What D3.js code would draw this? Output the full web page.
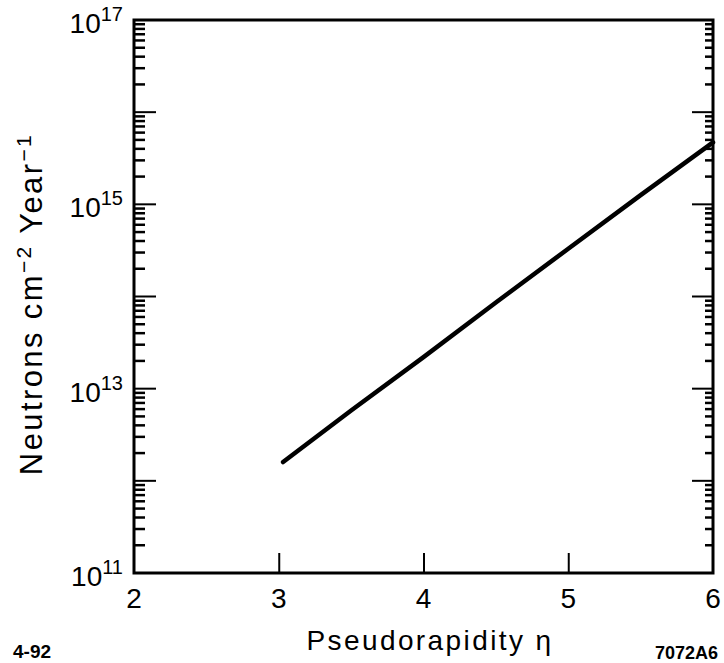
<!DOCTYPE html>
<html>
<head>
<meta charset="utf-8">
<script src="https://cdn.jsdelivr.net/npm/d3@7"></script>
<style>
  body { margin: 0; background: #fff; }
  svg { display: block; font-family: "Liberation Sans", Arial, Helvetica, sans-serif; }
</style>
</head>
<body>
<div id="chart"></div>
<script>
// neutron flux vs pseudorapidity
const eta = [3.03, 3.5, 4, 4.5, 5, 5.5, 6];
const flux = [1.6e12, 5.8e12, 2.2e13, 8.6e13, 3.3e14, 1.26e15, 4.7e15];

const xTicks = [2, 3, 4, 5, 6];
const yDecades = [11, 13, 15, 17];

const width = 724, height = 663;
const margin = { left: 134, right: 11, top: 20, bottom: 90 };

const svg = d3.select('#chart').append('svg')
  .attr('width', width)
  .attr('height', height);

const x = d3.scaleLinear().domain([2, 6]).range([margin.left, width - margin.right]);
const y = d3.scaleLog().domain([1e11, 1e17]).range([height - margin.bottom, margin.top]);

// minor + major ticks for log axis
const allTicks = [];
for (let e = 11; e < 17; e++) {
  for (let m = 1; m <= 9; m++) allTicks.push(m * Math.pow(10, e));
}
const inner = allTicks.filter(v => v > 1e11);
const isMajor = v => Math.abs(Math.log10(v) - Math.round(Math.log10(v))) < 1e-9;

// left ticks (inward)
svg.append('g').selectAll('line')
  .data(inner)
  .join('line')
  .attr('x1', x(2))
  .attr('x2', d => x(2) + (isMajor(d) ? 22 : 11))
  .attr('y1', d => y(d))
  .attr('y2', d => y(d))
  .attr('stroke', '#000')
  .attr('stroke-width', d => isMajor(d) ? 2 : 2.5);

// right ticks (inward)
svg.append('g').selectAll('line')
  .data(inner)
  .join('line')
  .attr('x1', x(6))
  .attr('x2', d => x(6) - (isMajor(d) ? 21 : 8))
  .attr('y1', d => y(d))
  .attr('y2', d => y(d))
  .attr('stroke', '#000')
  .attr('stroke-width', d => isMajor(d) ? 2 : 2.5);

// bottom ticks (inward)
const xAxis = d3.axisBottom(x).tickValues(xTicks.slice(1, -1))
  .tickSizeInner(-20).tickSizeOuter(0).tickFormat('');
const gx = svg.append('g')
  .attr('transform', `translate(0,${y(1e11)})`)
  .call(xAxis);
gx.select('.domain').remove();
gx.selectAll('.tick line').attr('stroke-width', 2);

// frame
svg.append('rect')
  .attr('x', x(2))
  .attr('y', y(1e17))
  .attr('width', x(6) - x(2))
  .attr('height', y(1e11) - y(1e17))
  .attr('fill', 'none')
  .attr('stroke', '#000')
  .attr('stroke-width', 3);

// x tick labels
svg.append('g').selectAll('text')
  .data(xTicks)
  .join('text')
  .attr('x', d => x(d))
  .attr('y', 608)
  .attr('text-anchor', 'middle')
  .attr('font-size', 28)
  .text(d => d);

// y tick labels: 10^n
const yl = svg.append('g').selectAll('text')
  .data(yDecades)
  .join('text')
  .attr('x', 123)
  .attr('y', d => y(Math.pow(10, d)) + 13)
  .attr('text-anchor', 'end')
  .attr('font-size', 28);
yl.append('tspan').text('10');
yl.append('tspan')
  .attr('dy', -12)
  .attr('font-size', 20)
  .text(d => d);

// the curve
const line = d3.line()
  .x((d, i) => x(eta[i]))
  .y(d => y(d));
svg.append('path')
  .datum(flux)
  .attr('d', line)
  .attr('fill', 'none')
  .attr('stroke', '#000')
  .attr('stroke-width', 4.5)
  .attr('stroke-linecap', 'round');

// axis titles
svg.append('text')
  .attr('x', 430)
  .attr('y', 650)
  .attr('text-anchor', 'middle')
  .attr('font-size', 28)
  .attr('letter-spacing', 2.4)
  .text('Pseudorapidity η');

const ylab = svg.append('text')
  .attr('transform', `translate(42,304) rotate(-90)`)
  .attr('text-anchor', 'middle')
  .attr('font-size', 31)
  .attr('letter-spacing', 2.4);
ylab.append('tspan').text('Neutrons cm');
ylab.append('tspan').attr('dy', -11).attr('font-size', 21).text('−2');
ylab.append('tspan').attr('dy', 11).text(' Year');
ylab.append('tspan').attr('dy', -11).attr('font-size', 21).text('−1');

// figure codes
svg.append('text')
  .attr('x', 13).attr('y', 658)
  .attr('font-size', 19).attr('font-weight', 'bold')
  .text('4-92');
svg.append('text')
  .attr('x', 718).attr('y', 659)
  .attr('text-anchor', 'end')
  .attr('font-size', 18).attr('font-weight', 'bold')
  .text('7072A6');
</script>
</body>
</html>
